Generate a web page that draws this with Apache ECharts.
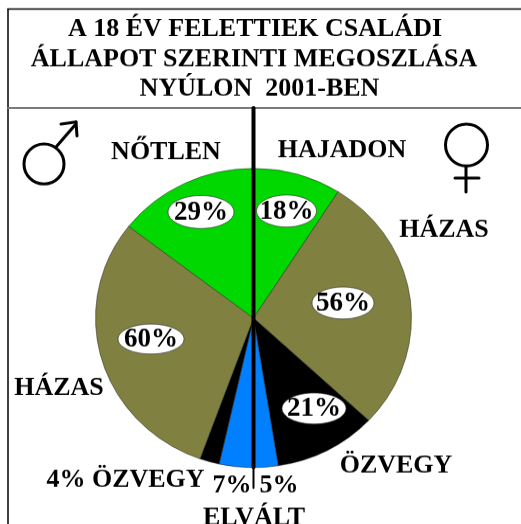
<!DOCTYPE html>
<html>
<head>
<meta charset="utf-8">
<style>
html,body{margin:0;padding:0;background:#fff;width:521px;height:524px;overflow:hidden}
#c{width:521px;height:553px;transform-origin:0 0;transform:scaleY(0.947)}
</style>
<script src="https://cdn.jsdelivr.net/npm/echarts@6/dist/echarts.min.js"></script>
</head>
<body>
<div id="c"></div>
<script>
// Data
const categories = ['HAJADON','HÁZAS','ÖZVEGY','ELVÁLT','ELVÁLT','ÖZVEGY','HÁZAS','NŐTLEN'];
const sexes      = ['nő','nő','nő','nő','férfi','férfi','férfi','férfi'];
const values     = [18,56,21,5,7,4,60,29];
const colours    = ['#00D800','#808040','#000000','#0080FF','#0080FF','#000000','#808040','#00D800'];
const titleLines = ['A 18 ÉV FELETTIEK CSALÁDI','ÁLLAPOT SZERINTI MEGOSZLÁSA','NYÚLON  2001-BEN'];

// Presentation
const K = 0.947, Y = y => y / K;
const font = '"Liberation Serif","Times New Roman",serif';
const T = (text,x,y,size) => ({type:'text',x,y:Y(y+1.5),scaleY:1/K,z:20,silent:true,
  style:{text,font:`bold ${size||26}px ${font}`,fill:'#000',align:'center',verticalAlign:'middle'}});
const L = (x1,y1,x2,y2,w,c) => ({type:'line',z:10,silent:true,shape:{x1,y1:Y(y1),x2,y2:Y(y2)},
  style:{stroke:c||'#000',lineWidth:w,lineCap:'round'}});
const ring = (cx,cy,r,w) => ({type:'ellipse',z:10,silent:true,shape:{cx,cy:Y(cy),rx:r,ry:r/K},
  style:{fill:'none',stroke:'#000',lineWidth:w}});
const bubble = (i,cx,cy,rx,ry) => [
  {type:'ellipse',z:15,silent:true,shape:{cx,cy:Y(cy),rx,ry:ry/K},style:{fill:'#fff',stroke:'#333',lineWidth:0.7}},
  T(values[i]+'%',cx,cy-1,27)
];

const graphicEls = [
  L(8,9,521,9,1.5), L(8,9,8,524,1.5), L(8,108,521,108,2,'#777'),
  ...titleLines.map((t,i)=>T(t,[255,254,259.5][i],[28,58,87][i],26)),
  // male symbol
  ring(44,164,20,3), L(56,147,75,125,3), L(61,124,76,122,3), L(76,122,77,136,3),
  // female symbol
  ring(466.5,145,21,3), L(466,166,466,192,3), L(455,178,479,178,3),
  // divider
  L(253.5,108,253.5,467,4), L(253.5,467,253.5,488,2),
  ...bubble(7,201,212,33,16.5), ...bubble(0,286.5,211,30,16), ...bubble(1,343,303,31,16),
  ...bubble(6,151,339,33,15), ...bubble(2,314,408.5,32,15.5),
  T(categories[7],166,151), T(categories[0],342,149), T(categories[1],444,229), T(categories[6],59,387),
  T(categories[2],396,464), T(values[5]+'% '+categories[5],125.5,479),
  T(values[4]+'%',232,484), T(values[3]+'%',279,484), T(categories[3],254,516)
];

const chart = echarts.init(document.getElementById('c'));
chart.setOption({
  animation:false,
  backgroundColor:'#fff',
  series:[{
    type:'pie', silent:true, startAngle:90, clockwise:true,
    center:[253.5,Y(318)], radius:[0,158],
    label:{show:false}, labelLine:{show:false},
    itemStyle:{borderColor:'#222',borderWidth:0.5},
    data:values.map((v,i)=>({value:v,name:sexes[i]+' '+categories[i],itemStyle:{color:colours[i]}}))
  }],
  graphic:graphicEls
});
</script>
</body>
</html>
